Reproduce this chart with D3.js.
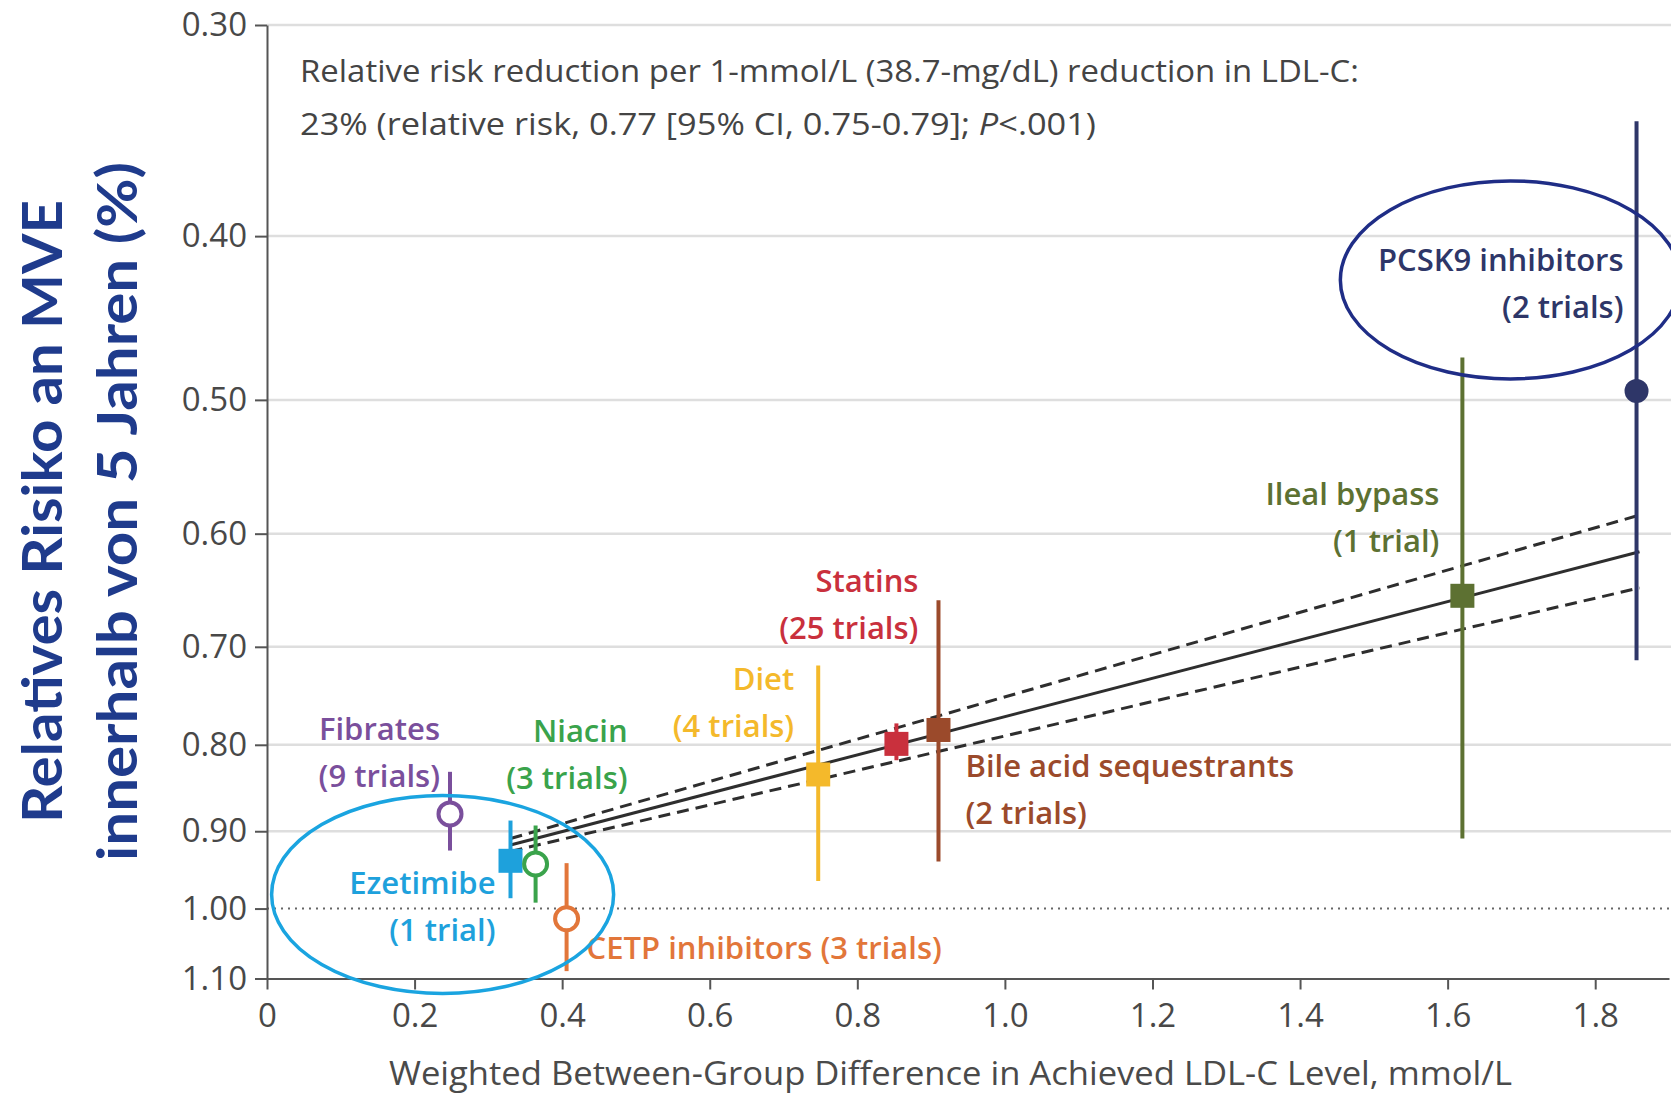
<!DOCTYPE html>
<html>
<head>
<meta charset="utf-8">
<script src="https://cdn.jsdelivr.net/npm/d3@7"></script>
<style>
  body { margin: 0; background: #fff; }
  svg { display: block; font-family: "Open Sans", sans-serif; }
  .axis path, .axis line { stroke: #555; stroke-width: 2; }
  .axis text { fill: #484848; font-size: 33px; font-family: "Open Sans", sans-serif; }
</style>
</head>
<body>
<div id="chart"></div>
<script>
// data
var categories = ["Fibrates", "Ezetimibe", "Niacin", "CETP inhibitors", "Diet", "Statins",
                  "Bile acid sequestrants", "Ileal bypass", "PCSK9 inhibitors"];
var trials   = [9, 1, 3, 3, 4, 25, 2, 1, 2];
var ldlDiff  = [0.248, 0.330, 0.364, 0.406, 0.747, 0.853, 0.910, 1.620, 1.856];
var relRisk  = [0.879, 0.937, 0.941, 1.014, 0.833, 0.799, 0.784, 0.653, 0.494];
var ciLow    = [0.830, 0.887, 0.893, 0.940, 0.718, 0.777, 0.657, 0.472, 0.342];
var ciHigh   = [0.924, 0.986, 0.992, 1.089, 0.963, 0.817, 0.938, 0.909, 0.713];

// meta-regression line and its 95% CI
var fitX       = [0.33, 1.86];
var fitRR      = [0.917, 0.615];
var fitUpperRR = [0.909, 0.585];
var fitLowerRR = [0.925, 0.646];

var xTicks = [0, 0.2, 0.4, 0.6, 0.8, 1.0, 1.2, 1.4, 1.6, 1.8];
var yTicks = [0.30, 0.40, 0.50, 0.60, 0.70, 0.80, 0.90, 1.00, 1.10];

// styles + label placement (px offsets from the marker)
var styles = {
  "Fibrates":               {color: "#7a4f9c", shape: "open",   anchor: "end",   dx: -10, dy: -74},
  "Ezetimibe":              {color: "#1ea1dc", shape: "square", anchor: "end",   dx: -15, dy: 33},
  "Niacin":                 {color: "#3aa34b", shape: "open",   anchor: "end",   dx: 92,  dy: -122},
  "CETP inhibitors":        {color: "#e2763a", shape: "open",   anchor: "start", dx: 20,  dy: 40, oneLine: true},
  "Diet":                   {color: "#f4b92b", shape: "square", anchor: "end",   dx: -24, dy: -84},
  "Statins":                {color: "#c9303d", shape: "square", anchor: "end",   dx: 22,  dy: -152},
  "Bile acid sequestrants": {color: "#9b4a2b", shape: "square", anchor: "start", dx: 27,  dy: 47},
  "Ileal bypass":           {color: "#5d7132", shape: "square", anchor: "end",   dx: -23, dy: -91},
  "PCSK9 inhibitors":       {color: "#2e3668", shape: "dot",    anchor: "end",   dx: -13, dy: -120}
};

// highlight ellipses (centre in data units, radii in px)
var highlights = [
  {x: 0.238, rr: 0.981, rx: 171, ry: 99, color: "#1aa4e0"},
  {x: 1.685, rr: 0.4246, rx: 170, ry: 99, color: "#1f2d86"}
];

var width = 1671, height = 1096;
var data = categories.map(function(c, i) {
  return {name: c, trials: trials[i], x: ldlDiff[i], rr: relRisk[i], lo: ciLow[i], hi: ciHigh[i]};
});

var svg = d3.select("#chart").append("svg")
    .attr("width", width)
    .attr("height", height);

svg.append("rect").attr("width", width).attr("height", height).attr("fill", "#fff");

var x = d3.scaleLinear().domain([0, 1.9]).range([267, 1669]);
var y = d3.scaleLog().domain([0.3, 1.1]).range([25, 978.5]);

// grid lines
svg.append("g").selectAll("line")
  .data(yTicks.filter(function(d) { return d < 1; }))
  .enter().append("line")
    .attr("x1", x(0)).attr("x2", width)
    .attr("y1", function(d) { return y(d); })
    .attr("y2", function(d) { return y(d); })
    .attr("stroke", "#dedede")
    .attr("stroke-width", 2.5);

// reference line RR = 1
svg.append("line")
  .attr("x1", x(0)).attr("x2", width)
  .attr("y1", y(1)).attr("y2", y(1))
  .attr("stroke", "#666")
  .attr("stroke-width", 2)
  .attr("stroke-dasharray", "2,5");

// axes
var yAxis = svg.append("g")
  .attr("class", "axis")
  .attr("transform", "translate(" + x(0) + ",0)")
  .call(d3.axisLeft(y).tickValues(yTicks).tickFormat(d3.format(".2f"))
        .tickSize(12).tickSizeOuter(0).tickPadding(8));

var xAxis = svg.append("g")
  .attr("class", "axis")
  .attr("transform", "translate(0," + y(1.1) + ")")
  .call(d3.axisBottom(x).tickValues(xTicks)
        .tickFormat(function(d) { return d === 0 ? "0" : d3.format(".1f")(d); })
        .tickSize(11).tickSizeOuter(0).tickPadding(14));

// regression line + CI
var fitLine = d3.line()
  .x(function(d) { return x(d[0]); })
  .y(function(d) { return y(d[1]); });

[[fitRR, null], [fitUpperRR, "12,7"], [fitLowerRR, "12,7"]].forEach(function(f) {
  svg.append("path")
    .datum(fitX.map(function(v, i) { return [v, f[0][i]]; }))
    .attr("d", fitLine)
    .attr("fill", "none")
    .attr("stroke", "#2e2e2e")
    .attr("stroke-width", 3)
    .attr("stroke-dasharray", f[1]);
});

// CI whiskers
svg.append("g").selectAll("line")
  .data(data)
  .enter().append("line")
    .attr("x1", function(d) { return x(d.x); })
    .attr("x2", function(d) { return x(d.x); })
    .attr("y1", function(d) { return y(d.lo); })
    .attr("y2", function(d) { return y(d.hi); })
    .attr("stroke", function(d) { return styles[d.name].color; })
    .attr("stroke-width", 4);

// markers
var marks = svg.append("g").selectAll("g")
  .data(data)
  .enter().append("g")
    .attr("transform", function(d) { return "translate(" + x(d.x) + "," + y(d.rr) + ")"; });

marks.filter(function(d) { return styles[d.name].shape === "square"; })
  .append("rect")
    .attr("x", -12).attr("y", -12)
    .attr("width", 24).attr("height", 24)
    .attr("fill", function(d) { return styles[d.name].color; });

marks.filter(function(d) { return styles[d.name].shape === "open"; })
  .append("circle")
    .attr("r", 11.5)
    .attr("fill", "#fff")
    .attr("stroke", function(d) { return styles[d.name].color; })
    .attr("stroke-width", 4);

marks.filter(function(d) { return styles[d.name].shape === "dot"; })
  .append("circle")
    .attr("r", 12)
    .attr("fill", function(d) { return styles[d.name].color; });

// series labels
marks.each(function(d) {
  var s = styles[d.name];
  var lines = s.oneLine
    ? [d.name + " (" + d.trials + " trial" + (d.trials > 1 ? "s" : "") + ")"]
    : [d.name, "(" + d.trials + " trial" + (d.trials > 1 ? "s" : "") + ")"];
  d3.select(this).selectAll("text")
    .data(lines)
    .enter().append("text")
      .attr("x", s.dx)
      .attr("y", function(t, i) { return s.dy + i * 47; })
      .attr("text-anchor", s.anchor)
      .attr("fill", s.color)
      .style("font-size", "31px")
      .style("font-weight", 600)
      .text(function(t) { return t; });
});

// highlight ellipses
svg.append("g").selectAll("ellipse")
  .data(highlights)
  .enter().append("ellipse")
    .attr("cx", function(d) { return x(d.x); })
    .attr("cy", function(d) { return y(d.rr); })
    .attr("rx", function(d) { return d.rx; })
    .attr("ry", function(d) { return d.ry; })
    .attr("fill", "none")
    .attr("stroke", function(d) { return d.color; })
    .attr("stroke-width", 3.5);

// annotation text
svg.append("text")
  .attr("x", 300).attr("y", 82)
  .attr("fill", "#444")
  .style("font-size", "31px")
  .attr("textLength", 1059)
  .attr("lengthAdjust", "spacingAndGlyphs")
  .text("Relative risk reduction per 1-mmol/L (38.7-mg/dL) reduction in LDL-C:");

var note2 = svg.append("text")
  .attr("x", 300).attr("y", 135)
  .attr("fill", "#444")
  .style("font-size", "31px")
  .attr("textLength", 796)
  .attr("lengthAdjust", "spacingAndGlyphs");
note2.append("tspan").text("23% (relative risk, 0.77 [95% CI, 0.75-0.79]; ");
note2.append("tspan").style("font-style", "italic").text("P");
note2.append("tspan").text("<.001)");

// x axis title
svg.append("text")
  .attr("x", 950.5).attr("y", 1085)
  .attr("text-anchor", "middle")
  .attr("fill", "#4a4a4a")
  .style("font-size", "33px")
  .attr("textLength", 1123)
  .attr("lengthAdjust", "spacingAndGlyphs")
  .text("Weighted Between-Group Difference in Achieved LDL-C Level, mmol/L");

// y axis title (two lines, rotated)
[["Relatives Risiko an MVE", 62, 623], ["innerhalb von 5 Jahren (%)", 137, 699]].forEach(function(t) {
  svg.append("text")
    .attr("transform", "translate(" + t[1] + ",511.5) rotate(-90)")
    .attr("text-anchor", "middle")
    .attr("fill", "#1f3b8c")
    .style("font-family", "Lato, sans-serif")
    .style("font-weight", 700)
    .style("font-size", "56px")
    .attr("textLength", t[2])
    .attr("lengthAdjust", "spacingAndGlyphs")
    .text(t[0]);
});
</script>
</body>
</html>
